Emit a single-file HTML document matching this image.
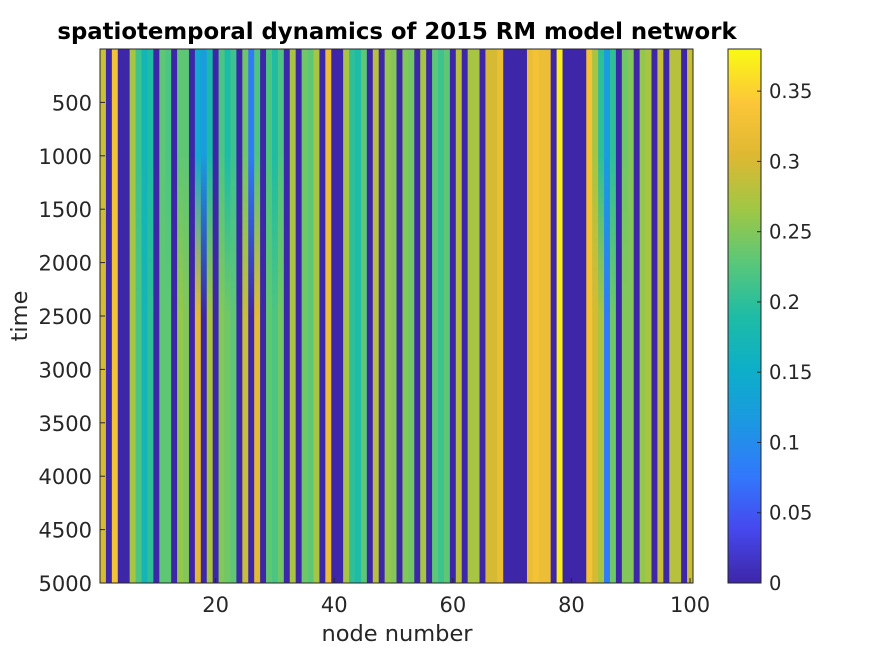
<!DOCTYPE html>
<html><head><meta charset="utf-8"><style>
body{margin:0;background:#fff;}
svg text{font-family:"DejaVu Sans","Liberation Sans",sans-serif;fill:#262626;}
</style></head><body>
<svg id="chart" width="875" height="656" xmlns="http://www.w3.org/2000/svg">
<defs id="defs"></defs>
<rect width="875" height="656" fill="#fff"/>
<text x="397" y="39" text-anchor="middle" font-size="22.8" font-weight="bold" style="fill:#000">spatiotemporal dynamics of 2015 RM model network</text>
<g id="cells"></g>
<g id="axes"></g>
<g id="cbar"></g>
<text x="397" y="641" text-anchor="middle" font-size="22.5">node number</text>
<text transform="translate(27,316) rotate(-90)" text-anchor="middle" font-size="22.5">time</text>
</svg>
<script>
const lateValues=[0.30,0,0.33,0,0,0.27,0.22,0.17,0.2,0,
0.23,0.23,0,0.26,0.25,0,0.31,0,0.27,0,
0.25,0.24,0.23,0,0.29,0,0.31,0,0.23,0.22,
0.24,0,0.27,0,0.24,0.23,0.27,0,0.32,0,
0,0.27,0.2,0.19,0.23,0,0.28,0,0.26,0.25,
0,0.25,0.24,0,0.27,0,0.23,0.21,0.23,0,
0.28,0,0.27,0.27,0,0.3,0.3,0.32,0,0,
0,0,0.32,0.33,0.32,0.32,0,0.37,0,0,
0,0,0.33,0.3,0.27,0.08,0.24,0,0.25,0.25,
0,0.26,0.27,0,0.29,0,0.28,0.28,0,0.29];
const earlyValues=[0.29,0,0.33,0,0,0.27,0.21,0.17,0.19,0,
0.23,0.22,0,0.23,0.23,0,0.14,0.12,0.18,0,
0.22,0.19,0.21,0,0.24,0.08,0.22,0,0.22,0.19,
0.22,0,0.27,0,0.24,0.23,0.27,0,0.32,0,
0,0.27,0.2,0.19,0.23,0,0.28,0,0.26,0.25,
0,0.25,0.24,0,0.27,0,0.23,0.21,0.23,0,
0.28,0,0.27,0.27,0,0.3,0.3,0.32,0,0,
0,0,0.32,0.33,0.32,0.32,0,0.37,0,0,
0,0,0.33,0.27,0.2,0.12,0.2,0,0.24,0.25,
0,0.26,0.27,0,0.29,0,0.28,0.28,0,0.29];
const transitionTimes=[1000,2500];
const xTicks=[20,40,60,80,100];
const yTicks=[500,1000,1500,2000,2500,3000,3500,4000,4500,5000];
const cTicks=[0,0.05,0.1,0.15,0.2,0.25,0.3,0.35];
const cMax=0.38, tMax=5000;

const NS="http://www.w3.org/2000/svg";
const L=100,R=693,T=49,B=583;
const N=lateValues.length, cw=(R-L)/N;
const xCol=n=>L+(n-1)*cw;
const xCenter=n=>L+(n-0.5)*cw;
const yT=t=>T+(t/tMax)*(B-T);
const stops=[[0,[62,38,168]],[0.1,[70,72,238]],[0.2,[50,120,252]],[0.3,[28,152,226]],[0.4,[13,175,200]],[0.5,[30,188,165]],[0.6,[90,199,121]],[0.7,[160,199,68]],[0.8,[222,184,50]],[0.9,[252,198,56]],[1,[249,250,20]]];
function color(v){let f=Math.max(0,Math.min(1,v/cMax));
 for(let i=1;i<stops.length;i++){if(f<=stops[i][0]){const a=stops[i-1],b=stops[i];const u=(f-a[0])/(b[0]-a[0]);
 const c=a[1].map((x,k)=>Math.round(x+(b[1][k]-x)*u));return `rgb(${c})`;}}return "rgb(249,250,20)";}
function mk(tag,attrs,parent){const e=document.createElementNS(NS,tag);for(const k in attrs)e.setAttribute(k,attrs[k]);parent.appendChild(e);return e;}
const defs=document.getElementById('defs'),cells=document.getElementById('cells'),axes=document.getElementById('axes'),cbar=document.getElementById('cbar');
for(let i=0;i<N;i++){
 const g=mk('linearGradient',{id:'g'+i,x1:0,y1:0,x2:0,y2:1},defs);
 mk('stop',{offset:transitionTimes[0]/tMax,'stop-color':color(earlyValues[i])},g);
 mk('stop',{offset:transitionTimes[1]/tMax,'stop-color':color(lateValues[i])},g);
 const r=mk('rect',{x:xCol(i+1),y:T,width:cw+0.4,height:B-T,fill:`url(#g${i})`},cells);
 
 
}
mk('rect',{x:L,y:T,width:R-L,height:B-T,fill:'none',stroke:'#262626','stroke-width':1},axes);
xTicks.forEach(v=>{const x=xCenter(v);
 mk('line',{x1:x,x2:x,y1:B,y2:B-5,stroke:'#262626'},axes);
 const t=mk('text',{x:x,y:B+29,'text-anchor':'middle','font-size':21},axes);t.textContent=v;
 
 });
yTicks.forEach(v=>{const y=yT(v);
 mk('line',{x1:L,x2:L+5,y1:y,y2:y,stroke:'#262626'},axes);
 const t=mk('text',{x:L-8,y:y+8,'text-anchor':'end','font-size':21},axes);t.textContent=v;
 
 });
const CL=728,CR=761;
const cg=mk('linearGradient',{id:'cbg',x1:0,y1:1,x2:0,y2:0},defs);
stops.forEach(s=>mk('stop',{offset:s[0],'stop-color':`rgb(${s[1]})`},cg));
mk('rect',{x:CL,y:T,width:CR-CL,height:B-T,fill:'url(#cbg)',stroke:'#262626','stroke-width':1},cbar);
const yC=v=>B-(v/cMax)*(B-T);
cTicks.forEach(v=>{const y=yC(v);
 mk('line',{x1:CR,x2:CR-4,y1:y,y2:y,stroke:'#262626'},cbar);
 const t=mk('text',{x:CR+8,y:y+7,'font-size':19.5},cbar);t.textContent=v;
 
 });
</script>
</body></html>
